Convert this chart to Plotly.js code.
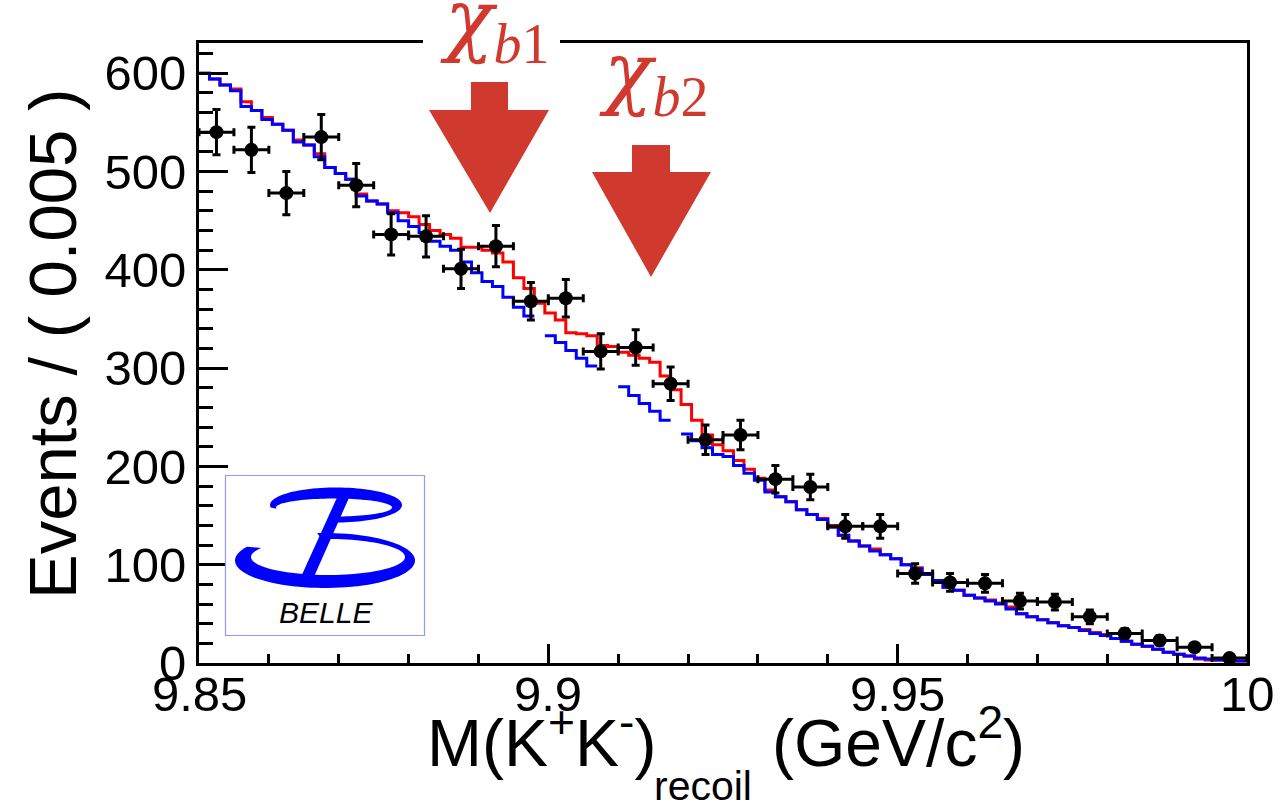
<!DOCTYPE html>
<html><head><meta charset="utf-8">
<script src="https://cdn.plot.ly/plotly-3.0.1.min.js"></script>
<style>html,body{margin:0;padding:0;background:#fff;}#chart{width:1283px;height:805px;}</style>
</head><body><div id="chart"></div>
<script>
// ---- data: points (bins of 0.005) ----
const binCenters = [9.8525, 9.8575, 9.8625, 9.8675, 9.8725, 9.8775, 9.8825, 9.8875, 9.8925, 9.8975,
  9.9025, 9.9075, 9.9125, 9.9175, 9.9225, 9.9275, 9.9325, 9.9375, 9.9425, 9.9475,
  9.9525, 9.9575, 9.9625, 9.9675, 9.9725, 9.9775, 9.9825, 9.9875, 9.9925, 9.9975];
const counts = [540, 522, 478, 535, 486, 436, 434, 401, 424, 368,
  371, 317, 321, 284, 227, 232, 187, 179, 139, 139,
  91, 82, 81, 63, 62, 47, 30, 23, 16, 5];
const countErrors = [23, 23, 22, 23, 22, 21, 21, 20, 21, 19,
  19, 18, 18, 17, 15, 15, 14, 13, 12, 12,
  10, 9, 9, 8, 8, 7, 5, 5, 4, 2];
const binHalfWidth = 0.0025;

// ---- data: fit curves (fine bins of 0.0015 from 9.85) ----
const curveStart = 9.85;
const curveBinWidth = 0.0015;
const totalFit = [600,594,588,584,571,562,555,548,542,532, 527,518,504,498,492,477,470,467,
  460,458,454,446,440,436,432,423,423,420, 417,408,392,381,366,356,349,336,335,333,
  323,322,316,313,310,306,292,278,263,247, 232,222,216,206,197,188,
  176,169,164,156,151,147, 140,130,124,119,116,110,106,100,97,91,
  84,77,74,69,66,64,61,57,50,47, 44,41,38,36,34,31,29,25,22,19,
  17,14,11,9,7,4,3,3,2,2];
const backgroundFit = [600,594,588,582,566,562,553,548,542,530, 527,515,504,498,492,475,470,467,458,450,
  444,438,429,424,420,408,397,388,383,372, 362,353,null,333,326,318,310,302,null,null,
  281,272,264,256,247,null,233,226,219,212, 210,201,193,186,174,169,164,156,151,146,
  138,130,124,119,114,110,106,100,96,90, 84,77,74,69,66,63,60,55,50,47,
  44,41,38,36,33,30,28,25,22,19, 17,14,11,9,7,5,4,3,2,2];

const xTickVals = [9.85, 9.9, 9.95, 10];
const xTickText = ['9.85', '9.9', '9.95', '10'];
const yTickVals = [0, 100, 200, 300, 400, 500, 600];
const yTickText = ['0', '100', '200', '300', '400', '500', '600'];
const chiGlyph = `<span style="font-family:'DejaVu Serif'"><i>χ</i></span>`;
const peakLabels = [chiGlyph + '<sub><i>b</i>1</sub>', chiGlyph + '<sub><i>b</i>2</sub>'];

// ---- helpers ----
function stepXY(values) {
  const xs = [], ys = [];
  values.forEach((v, k) => {
    if (v === null) {
      if (xs.length && xs[xs.length - 1] !== null) { xs.push(null); ys.push(null); }
      return;
    }
    const lo = curveStart + k * curveBinWidth;
    xs.push(lo, lo + curveBinWidth); ys.push(v, v);
  });
  return {x: xs, y: ys};
}
const L = 199, T = 43, W = 1048, H = 620;
const fx = p => (p - L) / W;
const fy = p => (T + H - p) / H;
const pt = (x, y) => fx(x).toFixed(5) + ',' + fy(y).toFixed(5);
function poly(points) {
  return 'M' + points.map(p => pt(p[0], p[1])).join('L') + 'Z';
}
function ellPts(cx, cy, rx, ry, a0, a1, n) {
  const out = [];
  for (let i = 0; i <= n; i++) {
    const t = (a0 + (a1 - a0) * i / n) * Math.PI / 180;
    out.push([cx + rx * Math.cos(t), cy - ry * Math.sin(t)]);
  }
  return out;
}
function crescent(o, inn, a0, a1) {
  const outer = ellPts(o[0], o[1], o[2], o[3], a0, a1, 80);
  const inner = ellPts(inn[0], inn[1], inn[2], inn[3], a1, a0, 80);
  return poly(outer.concat(inner));
}

const red = 'rgb(208,58,46)';
const fitTotal = stepXY(totalFit);
const fitBkg = stepXY(backgroundFit);

const traces = [
  {x: fitTotal.x, y: fitTotal.y, mode: 'lines', connectgaps: false,
   line: {color: '#ff0000', width: 3}, hoverinfo: 'skip'},
  {x: fitBkg.x, y: fitBkg.y, mode: 'lines', connectgaps: false,
   line: {color: '#0000ff', width: 3}, hoverinfo: 'skip'},
  {x: binCenters, y: counts, mode: 'markers', type: 'scatter',
   marker: {color: 'black', size: 14},
   error_y: {type: 'data', array: countErrors, color: 'black', thickness: 3, width: 4},
   error_x: {type: 'constant', value: binHalfWidth, color: 'black', thickness: 3, width: 4}}
];

const shapes = [
  {type: 'rect', xref: 'paper', yref: 'paper', x0: fx(423), x1: fx(560), y0: fy(52), y1: fy(30),
   fillcolor: 'white', line: {width: 0}, layer: 'above'},
  {type: 'path', xref: 'paper', yref: 'paper', layer: 'above', fillcolor: red, line: {width: 0},
   path: poly([[471, 82], [508, 82], [508, 110], [549, 110], [490, 213], [429, 110], [471, 110]])},
  {type: 'path', xref: 'paper', yref: 'paper', layer: 'above', fillcolor: red, line: {width: 0},
   path: poly([[632, 145], [670, 145], [670, 172], [711, 172], [651, 277], [592, 172], [632, 172]])},
  {type: 'rect', xref: 'paper', yref: 'paper', x0: fx(225.5), x1: fx(424.5), y0: fy(635.5), y1: fy(475.5),
   fillcolor: 'white', line: {color: 'rgb(150,150,255)', width: 1.2}, layer: 'above'},
  {type: 'path', xref: 'paper', yref: 'paper', layer: 'above', fillcolor: '#0000ff', line: {width: 0},
   path: crescent([325, 560.5, 90, 27.5], [328, 557, 77, 18], 150, 455)},
  {type: 'path', xref: 'paper', yref: 'paper', layer: 'above', fillcolor: '#0000ff', line: {width: 0},
   path: crescent([336, 505, 66, 17.5], [334, 507.5, 58, 9], 188, -95)},
  {type: 'path', xref: 'paper', yref: 'paper', layer: 'above', fillcolor: '#0000ff', line: {width: 0},
   path: poly([[340, 491], [352, 491], [313, 579], [300, 579]])}
];

const font = 'Liberation Sans, Arial, Helvetica, sans-serif';
const serif = 'Liberation Serif, DejaVu Serif, serif';
const annotations = [
  {xref: 'paper', yref: 'paper', x: fx(494), y: fy(24), xanchor: 'center', yanchor: 'middle',
   text: peakLabels[0], showarrow: false, font: {family: serif, size: 80, color: red}},
  {xref: 'paper', yref: 'paper', x: fx(653), y: fy(77), xanchor: 'center', yanchor: 'middle',
   text: peakLabels[1], showarrow: false, font: {family: serif, size: 80, color: red}},
  {xref: 'paper', yref: 'paper', x: fx(326), y: fy(612), xanchor: 'center', yanchor: 'middle',
   text: '<i>BELLE</i>', showarrow: false, font: {family: font, size: 30, color: 'black'}},
  {xref: 'paper', yref: 'paper', x: fx(52), y: fy(344), xanchor: 'center', yanchor: 'middle', textangle: -90,
   text: 'Events / ( 0.005 )', showarrow: false, font: {family: font, size: 67, color: 'black'}},
  {xref: 'paper', yref: 'paper', x: fx(426), y: fy(738), xanchor: 'left', yanchor: 'middle', borderpad: 0,
   text: 'M(K<sup>+</sup>K<sup>-</sup>)', showarrow: false, font: {family: font, size: 66, color: 'black'}},
  {xref: 'paper', yref: 'paper', x: fx(653), y: fy(786), xanchor: 'left', yanchor: 'middle', borderpad: 0,
   text: 'recoil', showarrow: false, font: {family: font, size: 41, color: 'black'}},
  {xref: 'paper', yref: 'paper', x: fx(771), y: fy(738), xanchor: 'left', yanchor: 'middle', borderpad: 0,
   text: '(GeV/c<sup>2</sup>)', showarrow: false, font: {family: font, size: 66, color: 'black'}}
];
xTickVals.forEach((v, i) => annotations.push({
  xref: 'x', yref: 'paper', x: v, y: fy(694), xanchor: 'center', yanchor: 'middle',
  text: xTickText[i], showarrow: false, font: {family: font, size: 49, color: 'black'}}));

const layout = {
  width: 1283, height: 805,
  margin: {l: L, r: 1283 - L - W, t: T, b: 805 - T - H},
  paper_bgcolor: 'white', plot_bgcolor: 'white', showlegend: false,
  xaxis: {range: [9.85, 10.0], tickvals: xTickVals, showticklabels: false,
    ticks: 'inside', ticklen: 19, tickwidth: 3, tickcolor: 'black',
    minor: {ticks: 'inside', ticklen: 9, tickwidth: 3, tickcolor: 'black', dtick: 0.01, tick0: 9.85, showgrid: false},
    showline: true, linewidth: 3, linecolor: 'black', mirror: true,
    showgrid: false, zeroline: false},
  yaxis: {range: [0, 630.7], tickvals: yTickVals, ticktext: yTickText,
    ticks: 'inside', ticklen: 29, tickwidth: 3, tickcolor: 'black',
    minor: {ticks: 'inside', ticklen: 14, tickwidth: 3, tickcolor: 'black', dtick: 20, tick0: 0, showgrid: false},
    showline: true, linewidth: 3, linecolor: 'black', mirror: true,
    showgrid: false, zeroline: false, tickfont: {family: font, size: 49, color: 'black'}},
  shapes: shapes, annotations: annotations
};
Plotly.newPlot('chart', traces, layout, {displayModeBar: false, staticPlot: true});
</script></body></html>
